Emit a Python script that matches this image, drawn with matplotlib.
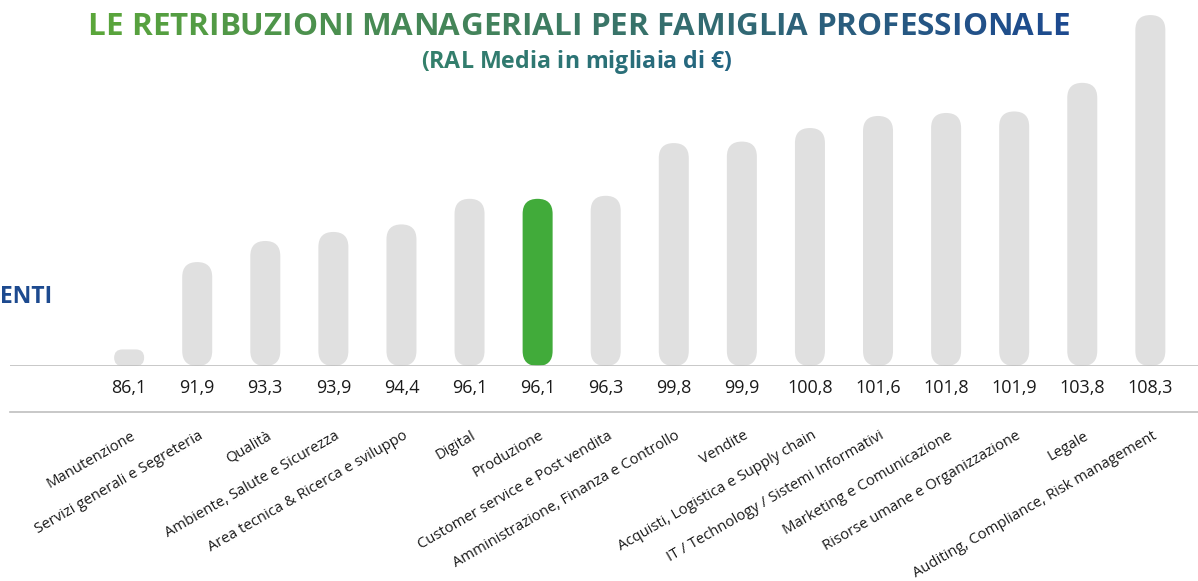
import numpy as np
import matplotlib.pyplot as plt
from matplotlib.patches import FancyBboxPatch
from matplotlib.lines import Line2D
from matplotlib.colors import to_rgb

# dati
famiglie = ['Manutenzione', 'Servizi generali e Segreteria', 'Qualità',
            'Ambiente, Salute e Sicurezza', 'Area tecnica & Ricerca e sviluppo',
            'Digital', 'Produzione', 'Customer service e Post vendita',
            'Amministrazione, Finanza e Controllo', 'Vendite',
            'Acquisti, Logistica e Supply chain', 'IT / Technology / Sistemi Informativi',
            'Marketing e Comunicazione', 'Risorse umane e Organizzazione', 'Legale',
            'Auditing, Compliance, Risk management']
ral = [86.1, 91.9, 93.3, 93.9, 94.4, 96.1, 96.1, 96.3,
       99.8, 99.9, 100.8, 101.6, 101.8, 101.9, 103.8, 108.3]
evidenziata = 'Produzione'

titolo = 'LE RETRIBUZIONI MANAGERIALI PER FAMIGLIA PROFESSIONALE'
sottotitolo = '(RAL Media in migliaia di €)'

plt.rcParams['font.family'] = ['Open Sans', 'DejaVu Sans']

W, H = 1198, 581
fig = plt.figure(figsize=(W / 100, H / 100), dpi=100)
ax = fig.add_axes([10 / W, (H - 366) / H, 1188 / W, 366 / H])
x0, x1 = -1.75, 15.70
y0, y1 = 85.0, 109.3
ax.set_xlim(x0, x1)
ax.set_ylim(y0, y1)
ax.axis('off')

# unità per pixel, per arrotondare le barre
px_x = (x1 - x0) / 1188
px_y = (y1 - y0) / 366
bw = 30 * px_x

for i, (nome, v) in enumerate(zip(famiglie, ral)):
    col = '#41ab3a' if nome == evidenziata else '#e0e0e0'
    h_px = (v - y0) / px_y
    r = min(15, h_px / 2) * px_x
    ax.add_patch(FancyBboxPatch((i - bw / 2, y0), bw, v - y0,
                                boxstyle=f'round,pad=0,rounding_size={r}',
                                mutation_aspect=px_y / px_x,
                                fc=col, ec='none'))
    ax.text(i, -0.06, f'{v:.1f}'.replace('.', ','), transform=ax.get_xaxis_transform(),
            ha='center', va='center', fontsize=13, color='#1a1a1a')
    ax.text(i + 0.02, -0.17, nome, transform=ax.get_xaxis_transform(),
            ha='right', va='top', rotation=30, rotation_mode='anchor',
            fontsize=10.7, color='#1a1a1a')

ax.axhline(y0, color='#bfbfbf', lw=1.2)
fig.add_artist(Line2D([10 / W, 1], [(H - 412) / H] * 2, color='#bfbfbf', lw=1.2))

renderer = fig.canvas.get_renderer()


def testo_sfumato(s, xc, yc, width_px, c_a, c_b):
    # misura la larghezza e adatta il corpo del testo
    tmp = fig.text(0, 0, s, fontsize=20, fontweight='bold')
    w = tmp.get_window_extent(renderer).width
    tmp.remove()
    fs = 20 * width_px / w
    ca, cb = np.array(to_rgb(c_a)), np.array(to_rgb(c_b))
    prev = None
    n = len(s)
    for k, ch in enumerate(s):
        t = k / (n - 1)
        col = tuple((1 - t) * ca + t * cb)
        if prev is None:
            prev = fig.text((xc - width_px / 2) / W, (H - yc) / H, ch, ha='left',
                            va='center', fontsize=fs, fontweight='bold', color=col)
        else:
            prev = ax.annotate(ch, xy=(1, 0), xycoords=prev, va='bottom', ha='left',
                               fontsize=fs, fontweight='bold', color=col,
                               annotation_clip=False)


testo_sfumato(titolo, 576, 27, 977, '#5aa63a', '#1d4a8f')
testo_sfumato(sottotitolo, 577, 62, 311, '#34806a', '#236482')

fig.text(0, (H - 297) / H, 'ENTI', ha='left', va='center',
         fontsize=16.5, fontweight='bold', color='#1d4a8f')

fig.savefig('out.png', dpi=100)
